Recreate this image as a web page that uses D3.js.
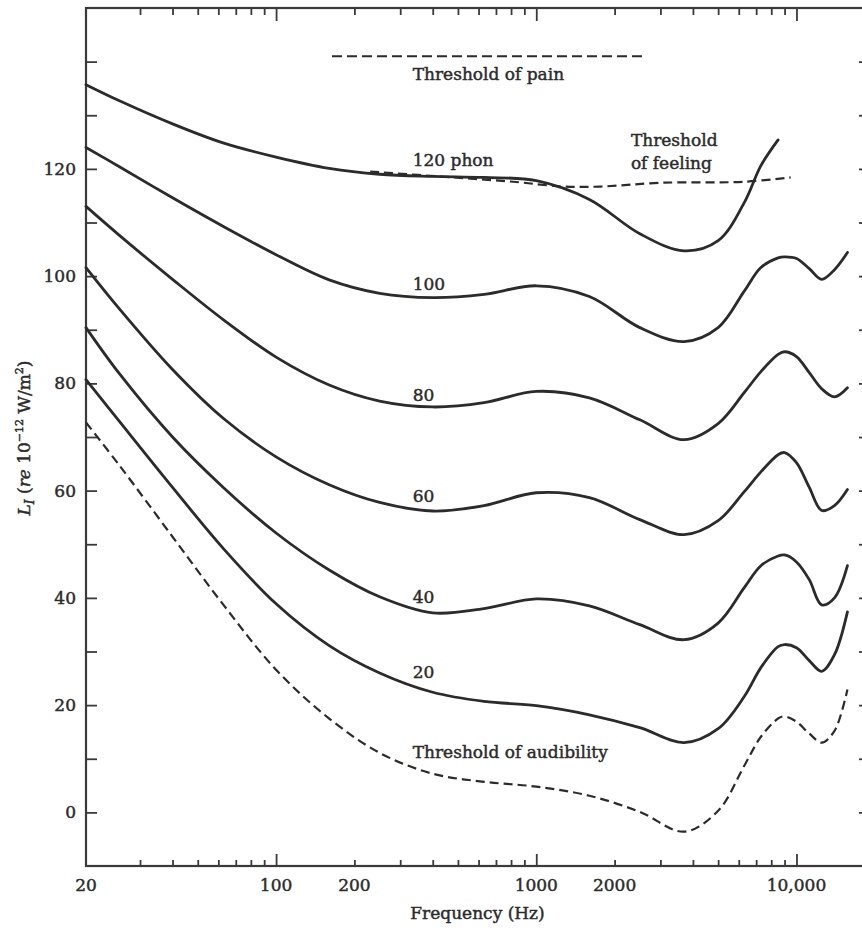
<!DOCTYPE html>
<html>
<head>
<meta charset="utf-8">
<script src="https://cdn.jsdelivr.net/npm/d3@7"></script>
<style>
  body { margin: 0; background: #fff; }
  svg text { font-family: "DejaVu Serif", "Liberation Serif", serif; fill: #2b2b2b; stroke: #2b2b2b; stroke-width: 0.45px; }
</style>
</head>
<body>
<svg id="chart" width="862" height="930"></svg>
<script>
// Sampling frequencies (Hz) shared by the equal-loudness contours
const freqHz = [18.6, 25, 40, 63, 100, 160, 250, 400, 630, 1000, 1600, 2500, 3700, 5000,
  6300, 7300, 8500, 9000, 10000, 11200, 12500, 14000, 15700];

// Sound intensity level (dB re 10^-12 W/m^2) of each contour at freqHz
const phon120 = [135.7, 132.7, 128.4, 124.8, 122.2, 120.1, 119.0, 118.6, 118.4, 117.8, 114.3, 107.9, 104.7, 106.6,
  113.7, 120.6, 125.4, null, null, null, null, null, null];
const phon100 = [124.0, 120.4, 114.6, 109.2, 104.0, 99.3, 96.8, 96.0, 96.6, 98.2, 96.2, 90.4, 87.8, 90.4,
  97.2, 101.6, 103.4, 103.6, 103.3, 101.4, 99.4, 101.2, 104.4];
const phon80 = [113.0, 107.6, 99.4, 91.8, 84.9, 79.7, 76.7, 75.6, 76.4, 78.5, 77.3, 73.2, 69.5, 72.5,
  78.3, 82.2, 85.4, 85.9, 85.0, 82.0, 79.0, 77.5, 79.2];
const phon60 = [101.6, 93.9, 82.6, 73.4, 66.3, 61.1, 57.8, 56.2, 57.2, 59.6, 58.7, 54.6, 51.8, 54.4,
  59.8, 63.5, 66.7, 67.1, 65.2, 60.6, 56.3, 57.2, 60.2];
const phon40 = [90.4, 81.8, 70.0, 60.5, 52.1, 45.2, 40.2, 37.2, 38.0, 39.8, 38.5, 35.0, 32.2, 35.3,
  41.9, 46.0, 47.8, 48.0, 46.7, 43.4, 38.7, 40.0, 46.0];
const phon20 = [80.7, 72.9, 60.6, 49.1, 38.9, 31.1, 26.0, 22.4, 20.7, 19.9, 18.2, 15.8, 13.0, 15.6,
  21.6, 27.0, 30.9, 31.3, 30.7, 28.3, 26.3, 29.4, 37.4];
const audibility = [72.7, 64.7, 51.4, 38.6, 26.6, 17.5, 11.1, 7.2, 5.7, 4.8, 3.1, 0.1, -3.6, 0.3,
  8.7, 14.1, 17.5, 17.9, 16.9, 14.7, 13.0, 15.2, 22.9];

// Threshold of feeling and threshold of pain (dashed)
const feelingHz = [230, 480, 815, 1270, 1760, 3000, 6300, 9500];
const feelingDb = [119.5, 118.4, 117.6, 116.7, 116.7, 117.4, 117.6, 118.4];
const painHz = [164, 2620];
const painDb = [141, 141];

// Axis ticks and labels
const xMajorTicks = [100, 1000, 10000];
const xMinorTicks = [30, 40, 50, 60, 70, 80, 90, 200, 300, 400, 500, 600, 700, 800, 900,
  2000, 3000, 4000, 5000, 6000, 7000, 8000, 9000];
const xTickLabels = [20, 100, 200, 1000, 2000, 10000];
const yTicks = [0, 10, 20, 30, 40, 50, 60, 70, 80, 90, 100, 110, 120, 130, 140];
const yTickLabels = [0, 20, 40, 60, 80, 100, 120];

// In-plot annotations: text, frequency and level of the baseline start
const contourLabels = ["Threshold of pain", "120 phon", "100", "80", "60", "40", "20", "Threshold of audibility"];
const contourLabelDb = [136.5, 120.5, 97.4, 76.8, 57.9, 39.1, 25.1, 10.2];
const contourLabelHz = 335;
const feelingLabel = ["Threshold", "of feeling"];
const feelingLabelDb = [124.3, 120.0];
const feelingLabelHz = 2310;

const svg = d3.select("#chart");
const ink = "#2b2b2b";
const frame = { left: 86, right: 869, top: 8, bottom: 866 };

const x = d3.scaleLog().domain([18.6, 19000]).range([frame.left, frame.right]);
const y = d3.scaleLinear().domain([-10, 150]).range([frame.bottom, frame.top]);

// ---- axes (ticks point inward on all four sides) ----
function styleAxis(g) {
  g.select(".domain").remove();
  g.selectAll(".tick line").attr("stroke", "#3a3a3a").attr("stroke-width", 1.8);
  g.selectAll(".tick text").remove();
}
svg.append("g").attr("transform", `translate(0,${frame.bottom})`)
  .call(d3.axisBottom(x).tickValues(xMinorTicks).tickSize(-6)).call(styleAxis);
svg.append("g").attr("transform", `translate(0,${frame.bottom})`)
  .call(d3.axisBottom(x).tickValues(xMajorTicks).tickSize(-12)).call(styleAxis);
svg.append("g").attr("transform", `translate(0,${frame.top})`)
  .call(d3.axisTop(x).tickValues(xMinorTicks).tickSize(-7)).call(styleAxis);
svg.append("g").attr("transform", `translate(0,${frame.top})`)
  .call(d3.axisTop(x).tickValues(xMajorTicks).tickSize(-13)).call(styleAxis);
svg.append("g").attr("transform", `translate(${frame.left},0)`)
  .call(d3.axisLeft(y).tickValues(yTicks).tickSize(-11)).call(styleAxis);
svg.append("g").attr("transform", `translate(${frame.right},0)`)
  .call(d3.axisLeft(y).tickValues(yTicks).tickSize(10)).call(styleAxis);

// frame
svg.append("rect")
  .attr("x", frame.left).attr("y", frame.top)
  .attr("width", frame.right - frame.left).attr("height", frame.bottom - frame.top)
  .attr("fill", "none").attr("stroke", "#3a3a3a").attr("stroke-width", 2.2);

// tick labels
const fmtHz = d => d >= 10000 ? d3.format(",")(d) : String(d);
svg.append("g").selectAll("text").data(xTickLabels).join("text")
  .attr("x", d => d === xTickLabels[0] ? x.range()[0] : x(d))
  .attr("y", frame.bottom + 25)
  .attr("text-anchor", "middle")
  .attr("font-size", 17)
  .text(fmtHz);
svg.append("g").selectAll("text").data(yTickLabels).join("text")
  .attr("x", frame.left - 10)
  .attr("y", d => y(d))
  .attr("dy", "0.36em")
  .attr("text-anchor", "end")
  .attr("font-size", 17)
  .text(d => d);

// axis titles
svg.append("text")
  .attr("x", (frame.left + frame.right) / 2).attr("y", 919)
  .attr("text-anchor", "middle").attr("font-size", 17)
  .text("Frequency (Hz)");

const yTitle = svg.append("text")
  .attr("transform", "translate(30,438) rotate(-90)")
  .attr("text-anchor", "middle").attr("font-size", 17);
yTitle.append("tspan").attr("font-style", "italic").text("L");
yTitle.append("tspan").attr("font-style", "italic").attr("font-size", 12).attr("dy", 4).text("I");
yTitle.append("tspan").attr("dy", -4).text(" (");
yTitle.append("tspan").attr("font-style", "italic").text("re");
yTitle.append("tspan").text(" 10");
yTitle.append("tspan").attr("font-size", 11).attr("dy", -7).text("\u221212");
yTitle.append("tspan").attr("dy", 7).text(" W/m");
yTitle.append("tspan").attr("font-size", 11).attr("dy", -7).text("2");
yTitle.append("tspan").attr("dy", 7).text(")");

// ---- curves ----
const line = d3.line()
  .defined(d => d[1] != null)
  .x(d => x(d[0]))
  .y(d => y(d[1]))
  .curve(d3.curveCatmullRom.alpha(0.5));

const solidContours = [phon120, phon100, phon80, phon60, phon40, phon20];
svg.append("g").selectAll("path").data(solidContours).join("path")
  .attr("d", levels => line(freqHz.map((f, i) => [f, levels[i]])))
  .attr("fill", "none").attr("stroke", ink).attr("stroke-width", 2.8)
  .attr("stroke-linejoin", "round").attr("stroke-linecap", "round");

svg.append("path")
  .attr("d", line(freqHz.map((f, i) => [f, audibility[i]])))
  .attr("fill", "none").attr("stroke", ink).attr("stroke-width", 2.2)
  .attr("stroke-dasharray", "9,5");

svg.append("path")
  .attr("d", line(feelingHz.map((f, i) => [f, feelingDb[i]])))
  .attr("fill", "none").attr("stroke", ink).attr("stroke-width", 2.2)
  .attr("stroke-dasharray", "9,5");

svg.append("path")
  .attr("d", d3.line().x(d => x(d[0])).y(d => y(d[1]))(painHz.map((f, i) => [f, painDb[i]])))
  .attr("fill", "none").attr("stroke", ink).attr("stroke-width", 2.2)
  .attr("stroke-dasharray", "10,5");

// ---- annotations ----
svg.append("g").selectAll("text").data(contourLabels).join("text")
  .attr("x", x(contourLabelHz))
  .attr("y", (d, i) => y(contourLabelDb[i]))
  .attr("font-size", 17)
  .text(d => d);
svg.append("g").selectAll("text").data(feelingLabel).join("text")
  .attr("x", x(feelingLabelHz))
  .attr("y", (d, i) => y(feelingLabelDb[i]))
  .attr("font-size", 17)
  .text(d => d);
</script>
</body>
</html>
